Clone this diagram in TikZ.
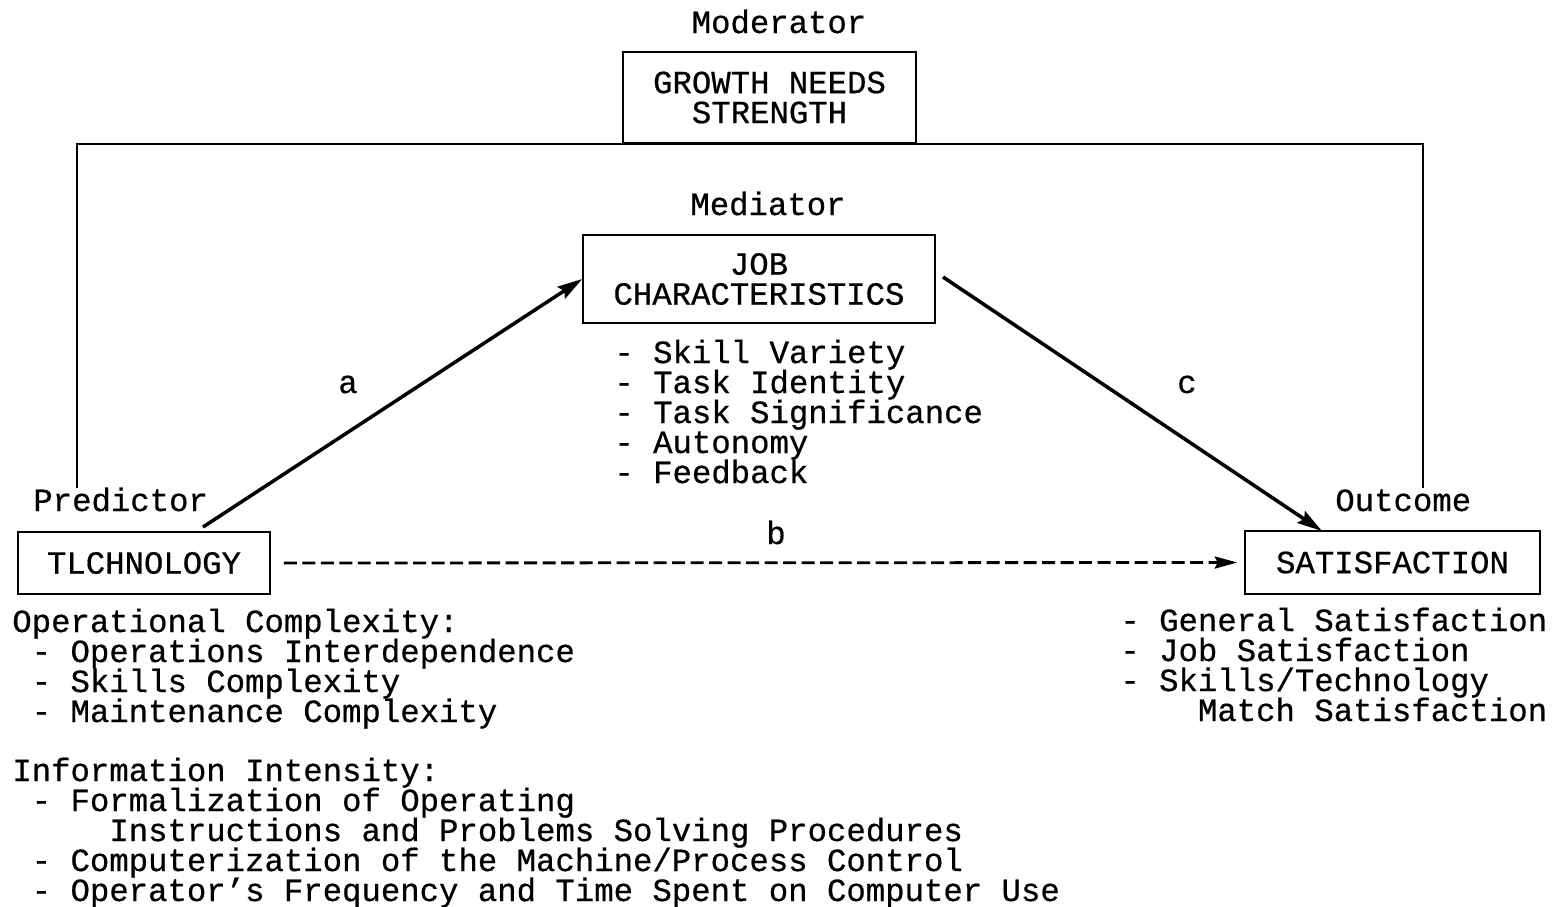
\documentclass[tikz,border=0pt]{standalone}
\usepackage{fontspec}
\usepackage{tikz}
\usetikzlibrary{arrows.meta, calc, positioning}
\newfontfamily\courier[FakeBold=0.6]{Liberation Mono}
\newcommand{\cfont}{\courier\fontsize{18.4}{17.07}\selectfont\lineskiplimit=-10pt}
\tikzset{
  box/.style={draw, line width=0.9pt, inner sep=0pt, align=center, font=\cfont},
  lbl/.style={inner sep=0pt, font=\cfont},
  lst/.style={inner sep=0pt, font=\cfont, align=left, anchor=base west},
  arr/.style={line width=2pt, -{Stealth[length=0.5cm, width=0.28cm, inset=0.07cm]}},
  frame/.style={line width=1.2pt}
}

\begin{document}
\begin{tikzpicture}[x=0.02cm, y=-0.02cm, >=Stealth]
  \useasboundingbox (0,0) rectangle (1555,906);
  \node[box, minimum width=5.86cm, minimum height=1.82cm] (gns) at (769.5,97.5) {GROWTH NEEDS\\STRENGTH};
  \node[box, minimum width=7.04cm, minimum height=1.76cm] (job) at (759,279) {JOB\\CHARACTERISTICS};
  \node[box, minimum width=5.04cm, minimum height=1.24cm] (tech) at (144,563) {TLCHNOLOGY};
  \node[box, minimum width=5.9cm, minimum height=1.26cm] (sat) at (1392.5,562.5) {SATISFACTION};

  \node[lbl, anchor=base] (modlbl) at (779,33) {Moderator};
  \node[lbl, anchor=base] (medlbl) at (768,215) {Mediator};
  \node[lbl, anchor=base west] (predlbl) at (33,511) {Predictor};
  \node[lbl, anchor=base west] (outlbl) at (1335,511) {Outcome};

  \coordinate (predtop) at (77,488);
  \coordinate (outtop) at (1423,488);
  \draw[frame] (predtop) |- (gns.south) -| (outtop);

  \coordinate (astart) at (203,527);
  \coordinate (cstart) at (943,277);
  \coordinate (cend) at (1322,531);
  \draw[arr] (astart) -- (job.west);
  \draw[arr] (cstart) -- (cend);
  \draw[line width=1.6pt, dash pattern=on 0.26cm off 0.11cm, shorten <=0.26cm, shorten >=0.14cm,
    -{Stealth[length=0.45cm, width=0.24cm, inset=0.06cm]}] (tech.east) -- (sat.west);

  \node[lbl, anchor=base] (albl) at (348,393) {a};
  \node[lbl, anchor=base] (blbl) at (776,544) {b};
  \node[lbl, anchor=base] (clbl) at (1187,393) {c};

  % base anchor = baseline of the last line, lines 30 apart
  \node[lst] (jobdims) at (614,483) {- Skill Variety\\- Task Identity\\- Task Significance\\- Autonomy\\- Feedback};
  \node[lst] (opcx) at (12,722) {Operational Complexity:\\\phantom{x}- Operations Interdependence\\\phantom{x}- Skills Complexity\\\phantom{x}- Maintenance Complexity};
  \node[lst] (infint) at (12,901) {Information Intensity:\\\phantom{x}- Formalization of Operating\\\phantom{xxxxx}Instructions and Problems Solving Procedures\\\phantom{x}- Computerization of the Machine/Process Control\\\phantom{x}- Operator’s Frequency and Time Spent on Computer Use};
  \node[lst] (satdims) at (1120,721) {- General Satisfaction\\- Job Satisfaction\\- Skills/Technology\\\phantom{xxxx}Match Satisfaction};
\end{tikzpicture}
\end{document}
